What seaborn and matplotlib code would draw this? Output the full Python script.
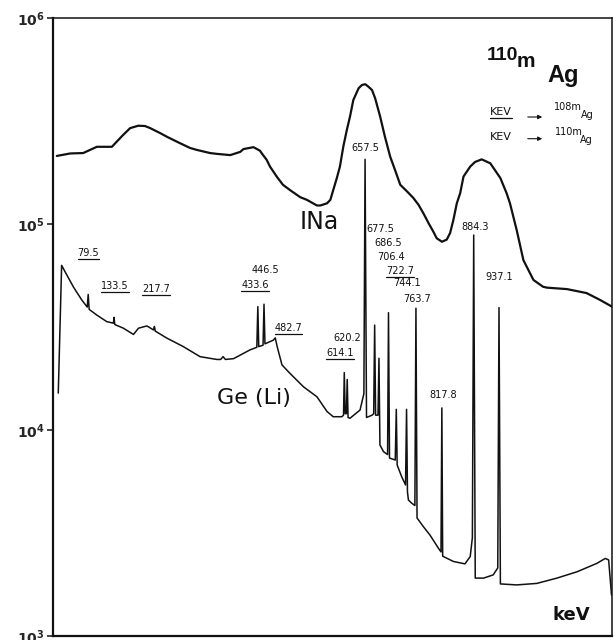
import matplotlib
matplotlib.use("Agg")
import matplotlib.pyplot as plt
from matplotlib.lines import Line2D
import seaborn as sns
import pandas as pd

# ---------------- data ----------------
nai_energy = [14, 42, 69, 97.5, 129, 139, 152, 167, 184, 198, 209, 230, 244, 264.5, 292, 306,
              334, 348, 376, 397, 403.5, 424.5, 438, 442, 452, 459, 473, 486, 501, 522, 536,
              557, 564, 578, 585, 591, 598.5, 605, 612, 619.4, 626, 633, 644, 651, 658, 664.5,
              672, 678.5, 689, 699, 710, 720, 731, 745, 758, 769, 779, 790, 800, 807, 818,
              828, 835, 842, 849, 856, 863, 877, 887, 901, 919, 940, 953, 960, 974,
              988, 1009, 1029, 1037, 1079, 1120, 1148, 1173]
nai_counts = [2.14e5, 2.2e5, 2.21e5, 2.37e5, 2.37e5, 2.51e5, 2.7e5, 2.92e5, 3.0e5, 2.99e5,
              2.92e5, 2.76e5, 2.65e5, 2.51e5, 2.34e5, 2.29e5, 2.21e5, 2.19e5, 2.16e5, 2.24e5,
              2.31e5, 2.36e5, 2.27e5, 2.2e5, 2.05e5, 1.9e5, 1.7e5, 1.55e5, 1.46e5, 1.35e5,
              1.31e5, 1.23e5, 1.23e5, 1.26e5, 1.31e5, 1.46e5, 1.67e5, 1.9e5, 2.37e5, 2.86e5,
              3.32e5, 4.0e5, 4.56e5, 4.73e5, 4.77e5, 4.64e5, 4.47e5, 4.08e5, 3.32e5, 2.65e5,
              2.12e5, 1.83e5, 1.55e5, 1.44e5, 1.34e5, 1.24e5, 1.13e5, 1.01e5, 9.18e4, 8.53e4,
              8.2e4, 8.4e4, 9.04e4, 1.05e5, 1.26e5, 1.41e5, 1.7e5, 1.9e5, 2.0e5, 2.06e5,
              1.97e5, 1.67e5, 1.41e5, 1.26e5, 9.35e4, 6.68e4, 5.35e4,
              4.96e4, 4.91e4, 4.83e4, 4.62e4, 4.28e4, 3.97e4]

ge_energy = [17, 24, 35, 49, 66, 77.5, 79.5, 81.5, 97, 118, 132, 133.5, 135, 153, 174, 184.5,
             202, 216, 217.7, 219.5, 244, 278, 313, 348, 356, 361, 366, 383, 417.5, 431.5,
             433.6, 435.5, 444.5, 446.5, 448.5, 466, 470, 474, 484, 501, 529, 557, 578, 591,
             609, 612.5, 614.1, 616, 618.5, 620.2, 622, 626, 647, 655, 657.5, 660.5, 672,
             675.5, 677.5, 679.5, 684.5, 686.5, 688.5, 696, 704.5, 706.4, 708.5, 720.5, 722.7,
             724.5, 734, 742, 744.1, 746, 748, 755, 761.5, 763.7, 766, 779, 793, 811, 816,
             817.8, 819.5, 842, 866, 877, 881.5, 884.3, 887.5, 905, 925, 934.5, 937.1, 940,
             974, 1016, 1058, 1100, 1141, 1159, 1166, 1172]
ge_counts = [1.51e4, 6.3e4, 5.65e4, 4.93e4, 4.28e4, 3.95e4, 4.55e4, 3.85e4, 3.62e4, 3.36e4,
             3.3e4, 3.52e4, 3.25e4, 3.12e4, 2.91e4, 3.12e4, 3.2e4, 3.06e4, 3.18e4, 3.02e4,
             2.79e4, 2.54e4, 2.27e4, 2.2e4, 2.2e4, 2.27e4, 2.2e4, 2.22e4, 2.45e4, 2.52e4,
             3.97e4, 2.54e4, 2.58e4, 4.08e4, 2.62e4, 2.73e4, 2.8e4, 2.54e4, 2.07e4, 1.88e4,
             1.62e4, 1.45e4, 1.23e4, 1.16e4, 1.16e4, 1.18e4, 1.9e4, 1.2e4, 1.2e4, 1.76e4,
             1.15e4, 1.14e4, 1.25e4, 1.5e4, 2.06e5, 1.15e4, 1.18e4, 1.2e4, 3.23e4, 1.18e4,
             1.18e4, 2.23e4, 8.46e3, 7.85e3, 7.6e3, 3.71e4, 7.31e3, 7.15e3, 1.26e4, 6.76e3,
             5.93e3, 5.41e3, 1.26e4, 5.0e3, 4.57e3, 4.41e3, 4.3e3, 3.9e4, 3.74e3, 3.4e3,
             3.09e3, 2.66e3, 2.56e3, 1.28e4, 2.44e3, 2.3e3, 2.24e3, 2.43e3, 3.0e3, 8.84e4,
             1.91e3, 1.91e3, 1.98e3, 2.14e3, 3.93e4, 1.79e3, 1.77e3, 1.8e3, 1.91e3, 2.05e3,
             2.25e3, 2.38e3, 2.34e3, 1.58e3]

peak_labels = ["79.5", "133.5", "217.7", "446.5", "433.6", "482.7", "657.5", "677.5",
               "686.5", "706.4", "722.7", "744.1", "763.7", "620.2", "614.1", "817.8",
               "884.3", "937.1"]
peak_is_108m = [True, True, True, False, True, True, False, False,
                False, False, True, False, False, False, True, False,
                False, False]

ytick_values = [1e3, 1e4, 1e5, 1e6]
ytick_labels = [r"$\mathbf{10^{3}}$", r"$\mathbf{10^{4}}$", r"$\mathbf{10^{5}}$", r"$\mathbf{10^{6}}$"]

# ---------------- drawing ----------------
sns.set_style("white")
plt.rcParams["font.family"] = ["DejaVu Sans"]
INK = "#111111"
ARIAL = ["Liberation Sans", "DejaVu Sans"]

fig = plt.figure(figsize=(6.14, 6.40), dpi=100)
ax = fig.add_axes([53 / 614, 4 / 640, 559 / 614, 618 / 640])

nai_df = pd.DataFrame({"energy": nai_energy, "counts": nai_counts})
ge_df = pd.DataFrame({"energy": ge_energy, "counts": ge_counts})

sns.lineplot(data=nai_df, x="energy", y="counts", ax=ax, color=INK, lw=1.6,
             estimator=None, sort=False)
sns.lineplot(data=ge_df, x="energy", y="counts", ax=ax, color=INK, lw=1.1,
             estimator=None, sort=False)

ax.set_yscale("log")
ax.set_xlim(6, 1173)
ax.set_ylim(1e3, 1e6)
ax.set_xlabel("")
ax.set_ylabel("")
ax.set_xticks([])
ax.set_yticks(ytick_values)
ax.set_yticklabels(ytick_labels, fontsize=10)
ax.yaxis.set_minor_locator(matplotlib.ticker.NullLocator())
ax.tick_params(axis="y", direction="out", length=4, width=1.2, pad=2, left=True)
for s in ["left", "bottom"]:
    ax.spines[s].set_linewidth(1.6)
for s in ["top", "right"]:
    ax.spines[s].set_linewidth(1.1)
for s in ax.spines.values():
    s.set_color(INK)

# peak labels (positions in data coordinates)
label_pos = [(80, 7.2e4), (135.7, 5.0e4), (220.7, 4.82e4), (450.3, 6.0e4), (428, 5.06e4),
             (497.5, 3.12e4), (657.6, 2.33e5), (689, 9.42e4), (706.3, 8.06e4), (711.3, 6.94e4),
             (730.7, 5.93e4), (745.9, 5.15e4), (765.6, 4.31e4), (619.4, 2.79e4), (605.4, 2.36e4),
             (821.1, 1.48e4), (887.3, 9.7e4), (937.4, 5.51e4)]
underline_texts = []
for lab, und, (px, py) in zip(peak_labels, peak_is_108m, label_pos):
    t = ax.text(px, py, lab, ha="center", va="center", fontsize=7, color=INK)
    if und:
        underline_texts.append(t)

ax.text(520, 1.02e5, "INa", ha="left", va="center", fontsize=17, color=INK)
ax.text(349, 1.43e4, "Ge (Li)", ha="left", va="center", fontsize=16, color=INK)
ax.text(1048, 1.26e3, "keV", ha="left", va="center", fontsize=13, fontweight="bold",
        color=INK)

# title 110m Ag
fig.text(487 / 614, 1 - 60 / 640, "110", fontsize=14, family=ARIAL, fontweight="bold",
         ha="left", va="baseline", color=INK)
fig.text(517 / 614, 1 - 67 / 640, "m", fontsize=15, family=ARIAL, fontweight="bold",
         ha="left", va="baseline", color=INK)
fig.text(547 / 614, 1 - 82 / 640, "Ag", fontsize=17, family=ARIAL, fontweight="bold",
         ha="left", va="baseline", color=INK)

# legend
t1 = fig.text(490 / 614, 1 - 115 / 640, "KEV", fontsize=8, ha="left", va="baseline", color=INK)
underline_texts.append(t1)
fig.text(490 / 614, 1 - 140 / 640, "KEV", fontsize=8, ha="left", va="baseline", color=INK)
for yy in (117, 138.7):
    ax.annotate("", xy=(545 / 614, 1 - yy / 640), xytext=(525 / 614, 1 - yy / 640),
                xycoords="figure fraction", textcoords="figure fraction",
                arrowprops=dict(arrowstyle="-|>", lw=0.8, color=INK, mutation_scale=6))
fig.text(554 / 614, 1 - 110 / 640, "108m", fontsize=7, ha="left", va="baseline", color=INK)
fig.text(581 / 614, 1 - 118 / 640, "Ag", fontsize=7, ha="left", va="baseline", color=INK)
fig.text(555 / 614, 1 - 135 / 640, "110m", fontsize=7, ha="left", va="baseline", color=INK)
fig.text(580 / 614, 1 - 143 / 640, "Ag", fontsize=7, ha="left", va="baseline", color=INK)

# underlines beneath the 108mAg labels
fig.canvas.draw()
renderer = fig.canvas.get_renderer()
W, H = fig.bbox.width, fig.bbox.height
for t in underline_texts:
    bb = t.get_window_extent(renderer)
    yline = bb.y0 - 1.0
    fig.add_artist(Line2D([bb.x0 / W, bb.x1 / W], [yline / H, yline / H], color=INK, lw=0.9))

fig.savefig("out.png", dpi=100)
